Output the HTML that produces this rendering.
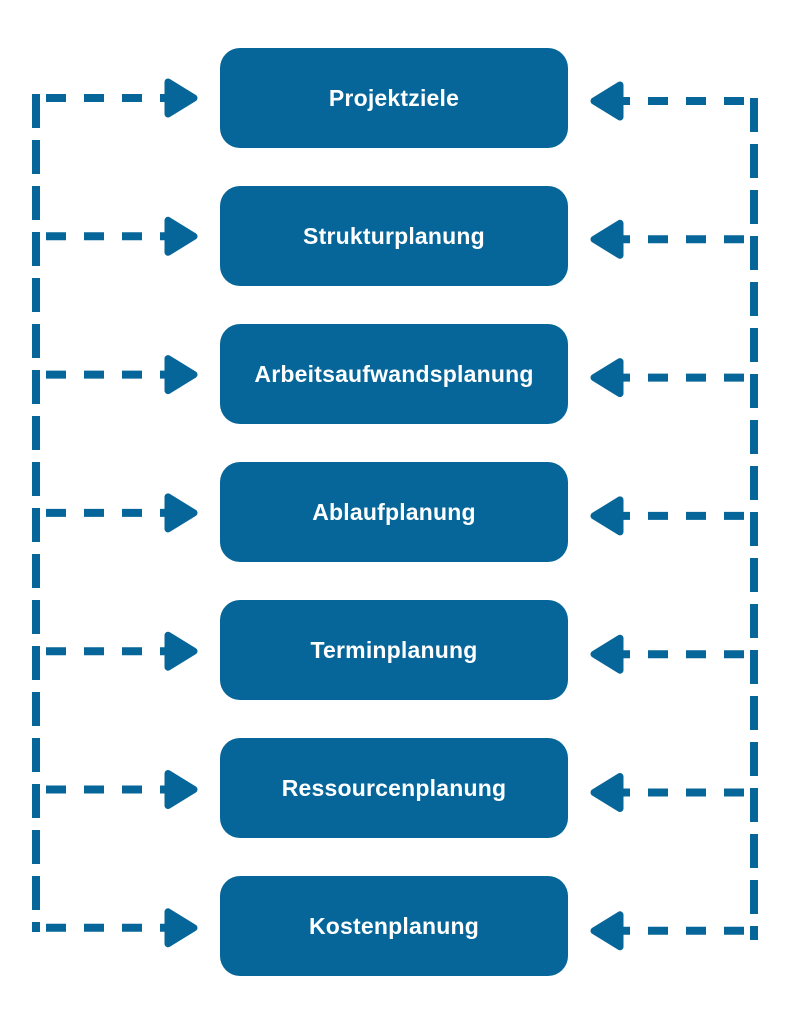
<!DOCTYPE html>
<html><head><meta charset="utf-8"><style>
body{margin:0;background:#fff;width:788px;height:1024px;overflow:hidden;position:relative;font-family:"Liberation Sans",sans-serif}
.b{position:absolute;left:220px;width:348px;height:100px;border-radius:20px;background:#066699;color:#fff;font-weight:bold;font-size:23px;display:flex;align-items:center;justify-content:center;letter-spacing:0.2px}
svg{position:absolute;left:0;top:0}
</style></head><body>
<svg width="788" height="1024">
<g stroke="#066699" stroke-width="8" fill="none">
<line x1="36" y1="94" x2="36" y2="932" stroke-dasharray="34 12"/>
<line x1="754" y1="98" x2="754" y2="940" stroke-dasharray="34 12"/>
</g>
<g id="rows"></g>
</svg>
<div class="b" style="top:48px">Projektziele</div>
<div class="b" style="top:186px">Strukturplanung</div>
<div class="b" style="top:324px">Arbeitsaufwandsplanung</div>
<div class="b" style="top:462px">Ablaufplanung</div>
<div class="b" style="top:600px">Terminplanung</div>
<div class="b" style="top:738px">Ressourcenplanung</div>
<div class="b" style="top:876px">Kostenplanung</div>
<script>
var g=document.getElementById('rows'),s='';
for(var i=0;i<7;i++){var yl=98+i*138.3,yr=101+i*138.3;
s+='<line x1="46" y1="'+yl+'" x2="170" y2="'+yl+'" stroke="#066699" stroke-width="8" stroke-dasharray="20 18"/>';
s+='<path d="M168 '+(yl-16)+' L194 '+yl+' L168 '+(yl+16)+' Z" fill="#066699" stroke="#066699" stroke-width="7" stroke-linejoin="round"/>';
s+='<line x1="744" y1="'+yr+'" x2="618" y2="'+yr+'" stroke="#066699" stroke-width="8" stroke-dasharray="20 18"/>';
s+='<path d="M620 '+(yr-16)+' L594 '+yr+' L620 '+(yr+16)+' Z" fill="#066699" stroke="#066699" stroke-width="7" stroke-linejoin="round"/>';}
g.innerHTML=s;
</script>
</body></html>
